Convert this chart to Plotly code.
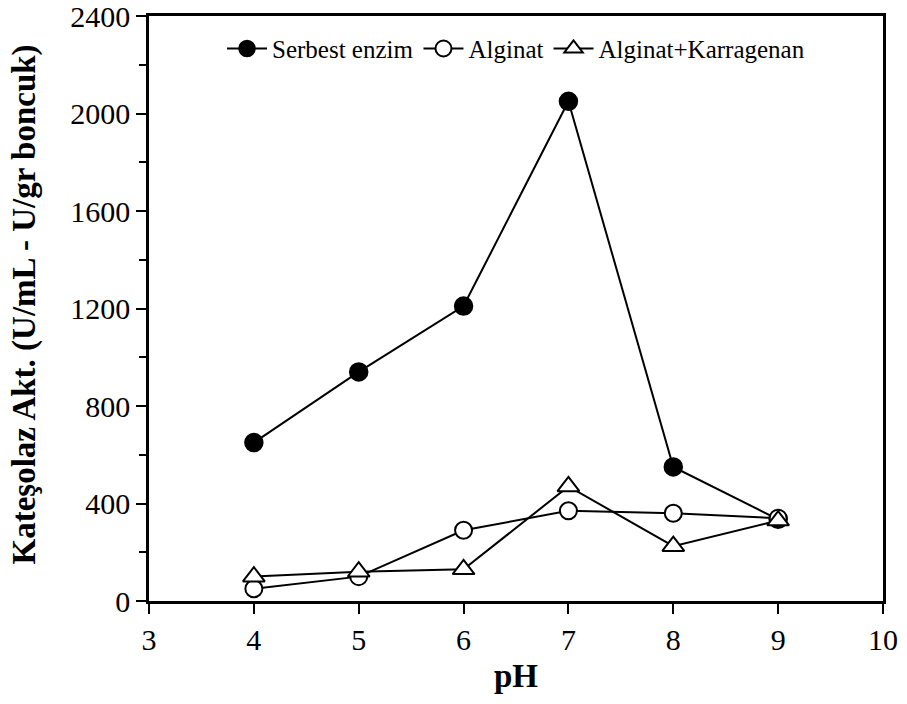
import plotly.graph_objects as go

# pH values and catechol oxidase activity for each enzyme form
ph = [4, 5, 6, 7, 8, 9]
serbest_enzim = [650, 940, 1210, 2050, 550, 335]
alginat = [50, 100, 290, 370, 360, 340]
alginat_karragenan = [100, 120, 130, 470, 225, 330]

series_names = ["Serbest enzim", "Alginat", "Alginat+Karragenan"]
x_ticks = [3, 4, 5, 6, 7, 8, 9, 10]
y_ticks = [0, 400, 800, 1200, 1600, 2000, 2400]
y_title = "Kateşolaz Akt. (U/mL - U/gr boncuk)"

FONT = "Liberation Serif"

fig = go.Figure()

fig.add_trace(go.Scatter(
    x=ph, y=serbest_enzim, name=series_names[0], mode="lines+markers",
    line=dict(color="black", width=2),
    marker=dict(symbol="circle", size=18, color="black",
                line=dict(color="black", width=1.5)),
))
fig.add_trace(go.Scatter(
    x=ph, y=alginat, name=series_names[1], mode="lines+markers",
    line=dict(color="black", width=2),
    marker=dict(symbol="circle", size=17, color="white",
                line=dict(color="black", width=2)),
))
fig.add_trace(go.Scatter(
    x=ph, y=alginat_karragenan, name=series_names[2], mode="lines+markers",
    line=dict(color="black", width=2),
    marker=dict(symbol="triangle-up", size=19, color="white",
                line=dict(color="black", width=2)),
))

# vertical axis title placed to the left of the tick labels
fig.add_annotation(
    text=f"<b>{y_title}</b>", textangle=-90,
    xref="paper", yref="paper", x=0, y=0.5, xanchor="center", yanchor="middle",
    xshift=-125, yshift=4, showarrow=False,
    font=dict(family=FONT, size=33, color="black"),
)

fig.update_layout(
    width=907, height=704,
    margin=dict(l=149, r=24, t=16, b=103, autoexpand=False),
    paper_bgcolor="white", plot_bgcolor="white",
    font=dict(family=FONT, color="black", size=30),
    showlegend=True,
    legend=dict(
        orientation="h", x=0.5, xanchor="center", y=0.944, yanchor="middle",
        font=dict(family=FONT, size=25, color="black"),
        bgcolor="rgba(0,0,0,0)", itemwidth=40, tracegroupgap=0,
    ),
    xaxis=dict(
        range=[3, 10], tickvals=x_ticks, ticktext=[str(v) for v in x_ticks],
        showgrid=False, zeroline=False, automargin=False,
        showline=True, linecolor="black", linewidth=2.5, mirror=True,
        ticks="outside", ticklen=10, tickwidth=2, tickcolor="black",
        ticklabeloverflow="allow",
        tickfont=dict(family=FONT, size=30, color="black"),
        title=dict(text="<b>pH</b>", font=dict(family=FONT, size=33, color="black"),
                   standoff=10),
    ),
    yaxis=dict(
        range=[0, 2400], tickvals=y_ticks, ticktext=[str(v) for v in y_ticks],
        showgrid=False, zeroline=False, automargin=False,
        showline=True, linecolor="black", linewidth=2.5, mirror=True,
        ticks="outside", ticklen=10, tickwidth=2, tickcolor="black",
        ticklabeloverflow="allow",
        minor=dict(dtick=200, ticks="outside", ticklen=7, tickwidth=2,
                   tickcolor="black", showgrid=False),
        tickfont=dict(family=FONT, size=30, color="black"),
    ),
)

fig.write_html("out.html")
